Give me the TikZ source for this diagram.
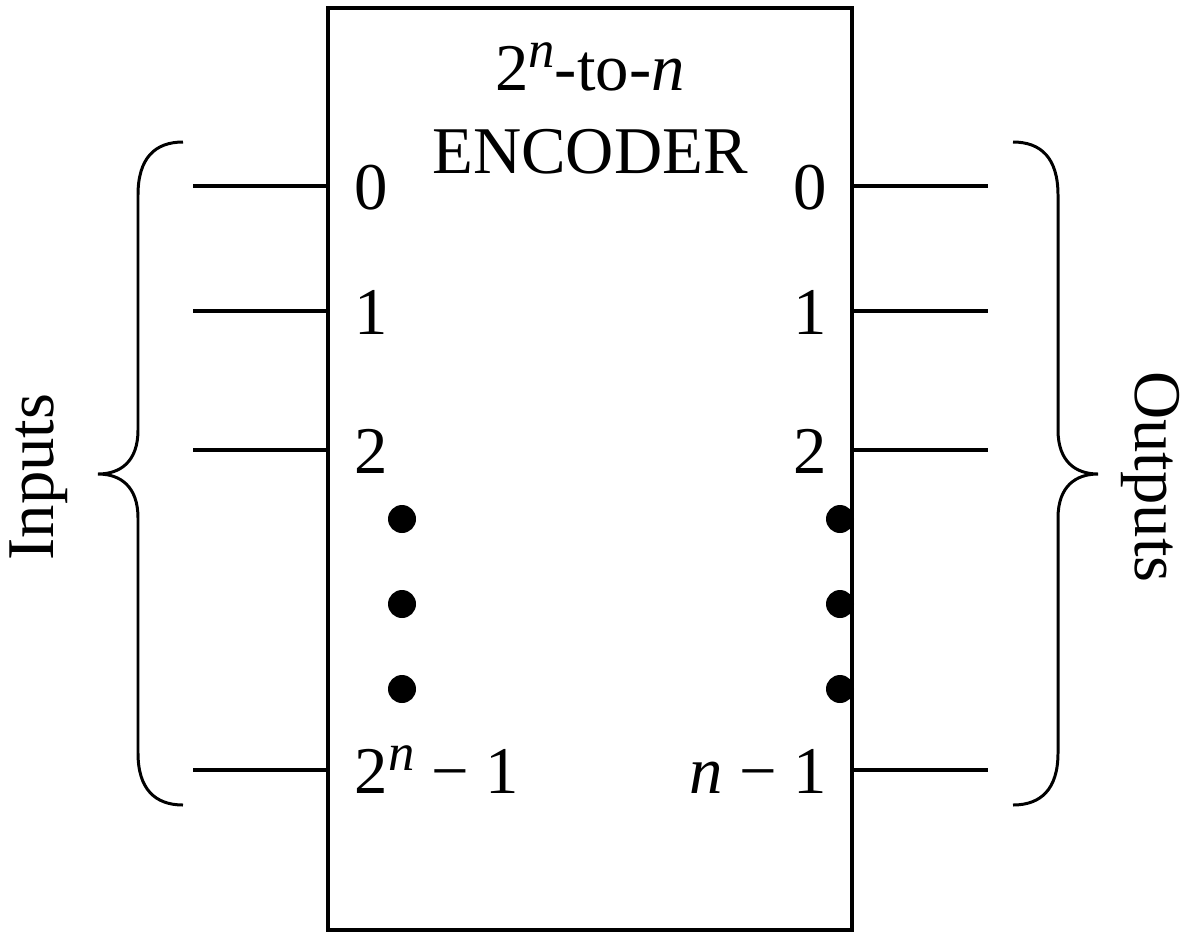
\documentclass[tikz,border=0pt]{standalone}
\usepackage{fontspec}
\setmainfont{Liberation Serif}
\usetikzlibrary{decorations.pathreplacing}

% raised italic n
\newcommand{\supn}{\raisebox{0.34em}{\fontsize{30}{30}\selectfont\textit{n}}}

\tikzset{
    curly/.pic={
        \draw[line width=1.7pt] (0,0) .. controls (-28,0) and (-45,16) .. (-45,53) -- (-45,288)
            .. controls (-45,320) and (-63,332) .. (-85,332)
            .. controls (-63,332) and (-45,344) .. (-45,376) -- (-45,611)
            .. controls (-45,647) and (-28,663) .. (0,663);
    }
}

\begin{document}
\begin{tikzpicture}[x=0.02cm,y=-0.02cm,line width=1.9pt,
    pinlabel/.style={inner sep=0pt,font=\fontsize{38}{44}\selectfont}]
        \useasboundingbox (0,0) rectangle (1186,937);

        % Encoder box
        \node[draw,line width=2.2pt,minimum width=10.48cm,minimum height=18.44cm,inner sep=0pt] (enc) at (590,469) {};
        \node[pinlabel,anchor=base] (title) at (590,90) {2\supn-to-\textit{n}};
        \node[pinlabel,anchor=base] (name) at (590,173) {ENCODER};

        % Input lines
        \foreach \name/\y/\txt in {0/186/0, 1/311/1, 2/450/2, last/770/{2\supn\ − 1}} {
            \node[pinlabel,anchor=base west] (inlab\name) at (353,\y+23) {\txt};
            \coordinate (in\name) at (193,\y);
            \draw (in\name) -- (enc.west |- in\name);
        }

        % Output lines
        \foreach \name/\y/\txt in {0/186/0, 1/311/1, 2/450/2, last/770/{\textit{n} − 1}} {
            \node[pinlabel,anchor=base east] (outlab\name) at (829,\y+23) {\txt};
            \coordinate (out\name) at (988,\y);
            \draw (enc.east |- out\name) -- (out\name);
        }

        % Dots
        \foreach \y in {519,604,689} {
            \fill (402,\y) circle[radius=0.28cm];
            \fill (840,\y) circle[radius=0.28cm];
        }

        % Braces
        \pic (inbrace) at (183,142) {curly};
        \pic[xscale=-1] (outbrace) at (1013,142) {curly};
        \node[pinlabel,rotate=90] (inputs) at (39,477) {Inputs};
        \node[pinlabel,rotate=-90] (outputs) at (1150,477) {Outputs};
      \end{tikzpicture}
\end{document}
